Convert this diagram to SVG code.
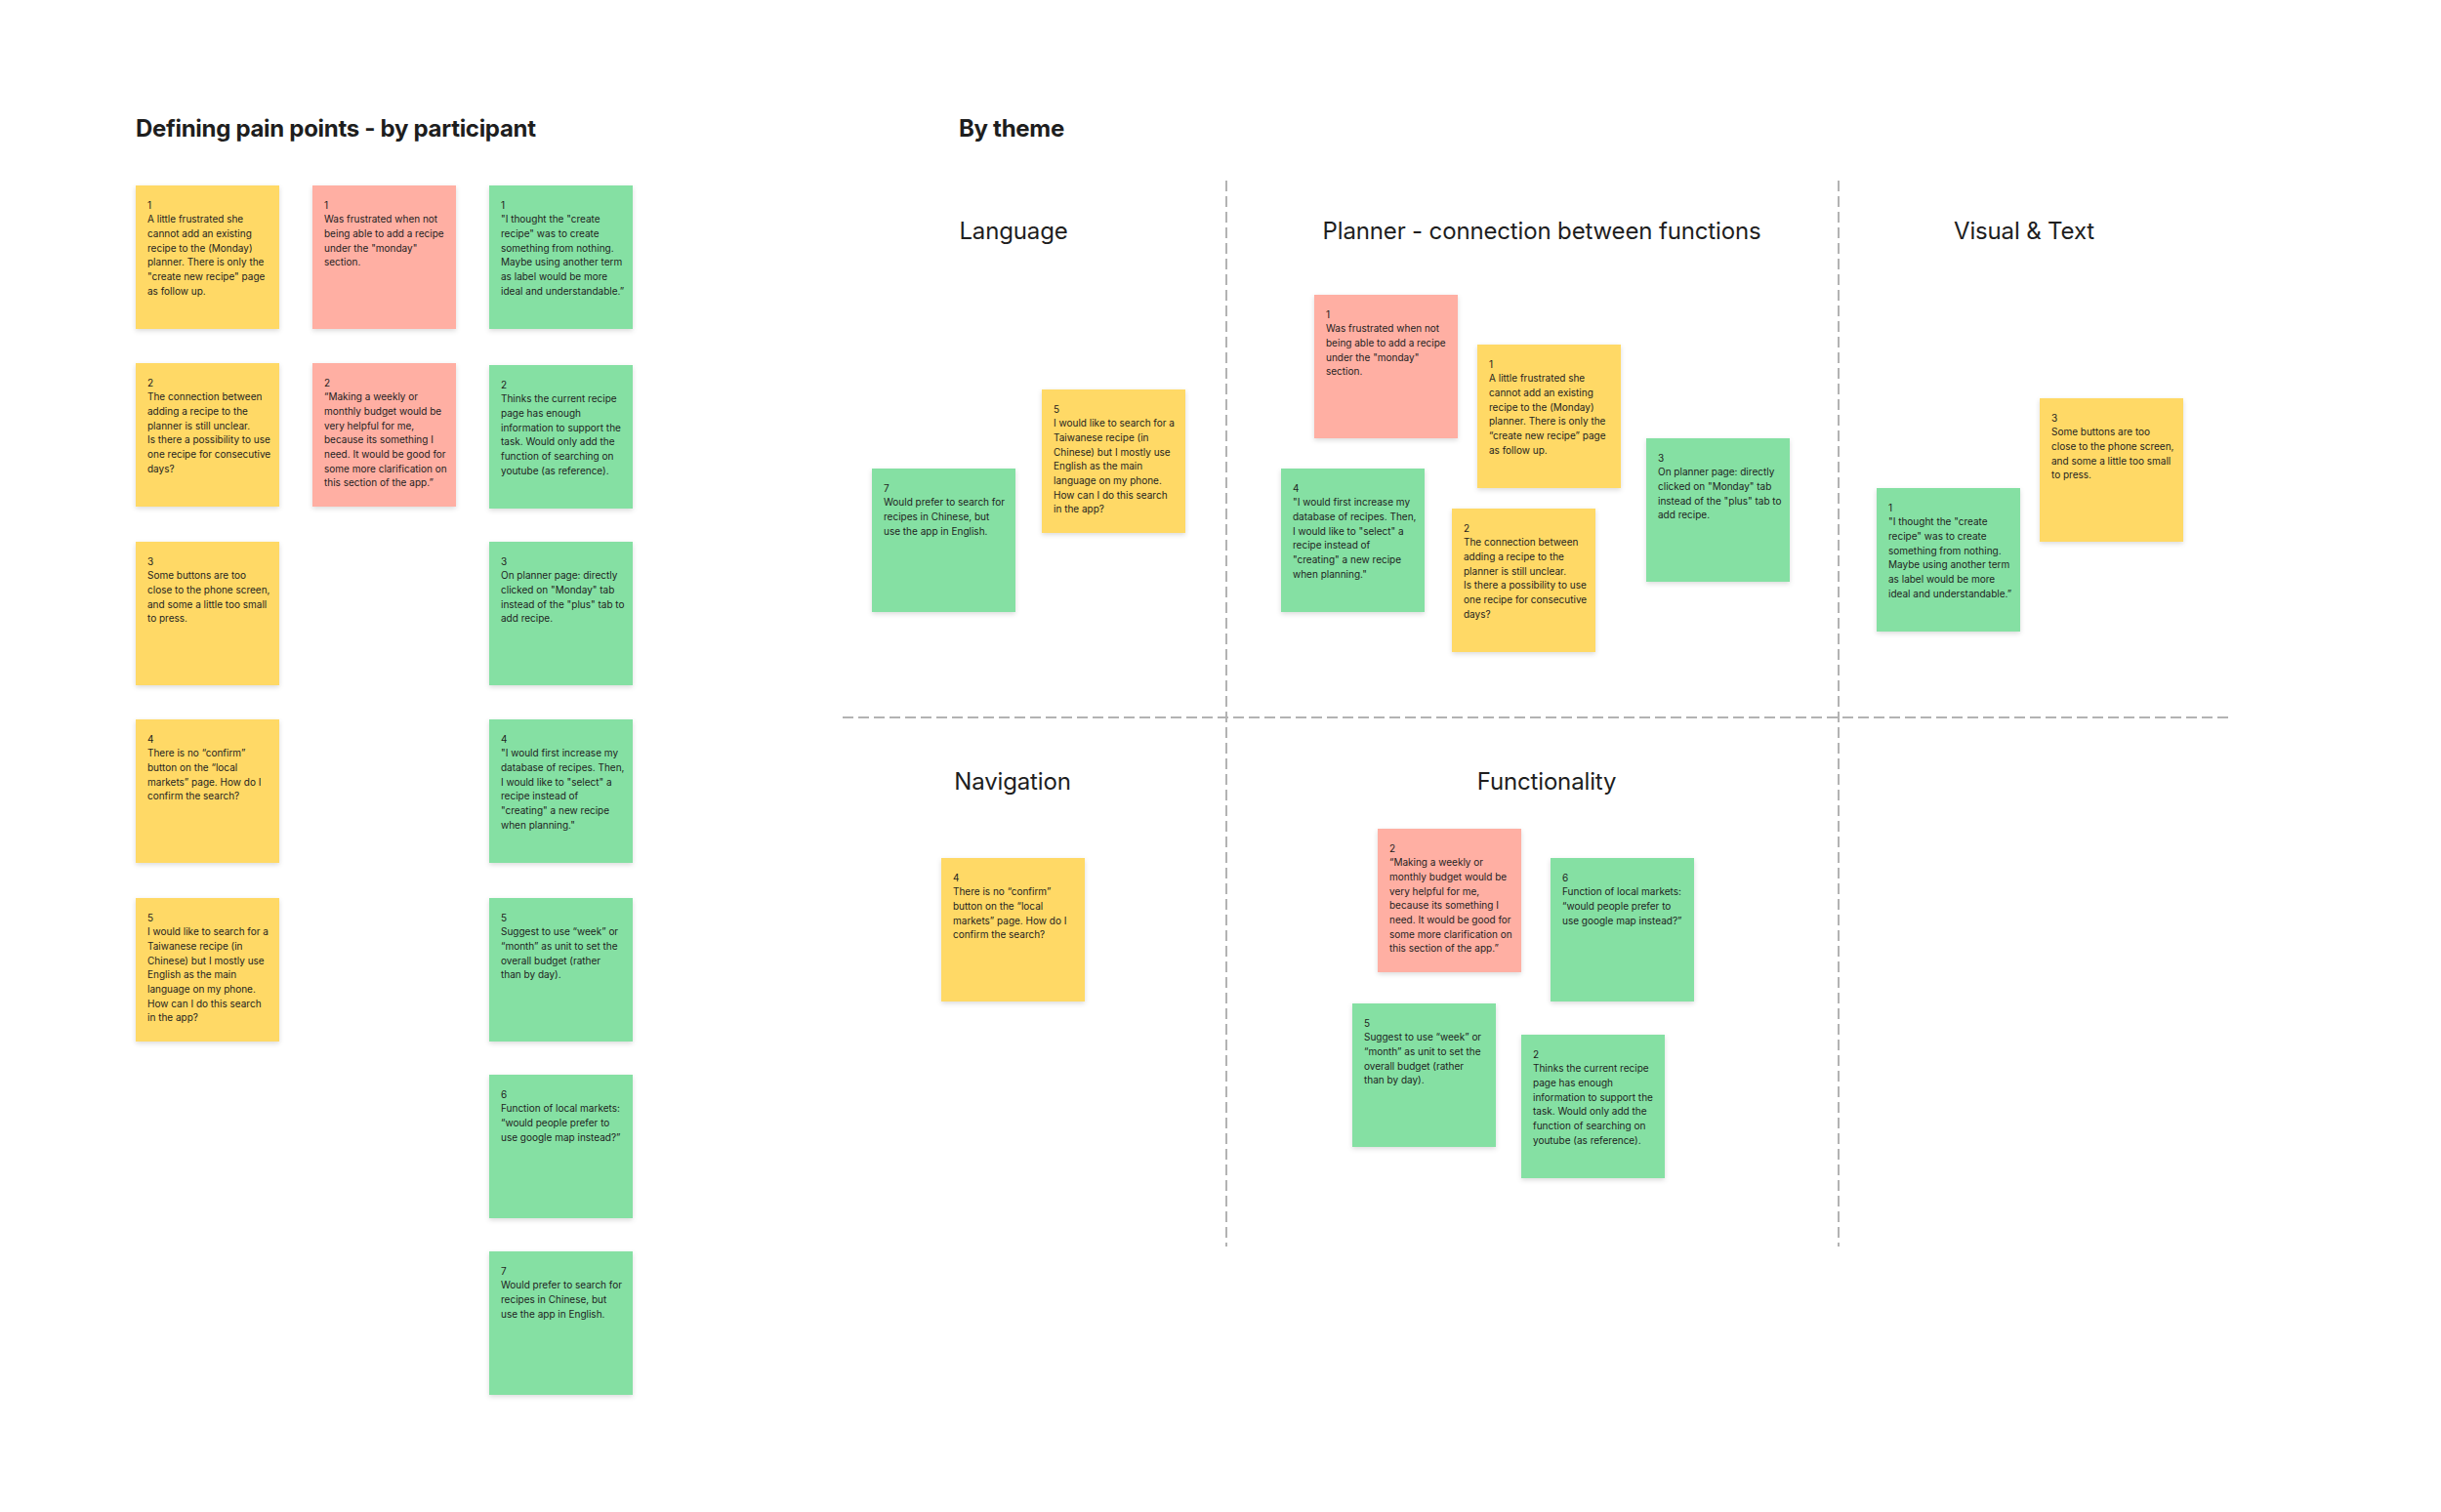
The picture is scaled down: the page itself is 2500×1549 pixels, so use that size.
<svg xmlns="http://www.w3.org/2000/svg" width="2500" height="1549" viewBox="0 0 2500 1549">
<style>
.bg{fill:#ffffff}
.sticky{filter:url(#sh)}
.y{fill:#FFD966}
.r{fill:#FFAFA3}
.g{fill:#85E0A3}
.st{font-family:Inter,"Liberation Sans",sans-serif;font-size:10px;fill:#1e1e1e}
.title{font-family:Inter,"Liberation Sans",sans-serif;font-size:24px;font-weight:700;letter-spacing:-0.3px;fill:#1e1e1e}
.head{font-family:Inter,"Liberation Sans",sans-serif;font-size:24px;letter-spacing:-0.15px;fill:#1e1e1e;text-anchor:middle}
.div{stroke:#b3b3b3;stroke-width:2;stroke-dasharray:11 5;fill:none}
</style>
<defs>
<filter id="sh" x="-10%" y="-10%" width="120%" height="125%">
<feDropShadow dx="0" dy="2" stdDeviation="2.5" flood-color="#000" flood-opacity="0.14"/>
</filter>
</defs>
<rect class="bg" x="0" y="0" width="2500" height="1549"/>

<g id="titles">
<text class="title" x="139" y="140">Defining pain points - by participant</text>
<text class="title" x="982" y="140">By theme</text>
<text class="head" x="1038" y="245">Language</text>
<text class="head" x="1579" y="245">Planner - connection between functions</text>
<text class="head" x="2073" y="245">Visual &amp; Text</text>
<text class="head" x="1037" y="809">Navigation</text>
<text class="head" x="1584" y="809">Functionality</text>
</g>

<g id="connectors">
<line class="div" x1="1256" y1="185" x2="1256" y2="1277"/>
<line class="div" x1="1883" y1="185" x2="1883" y2="1277"/>
<line class="div" x1="863" y1="735" x2="2286" y2="735"/>
</g>

<!-- By participant: yellow column -->
<g id="p-yellow-1" transform="translate(139,190)"><rect class="sticky y" width="147" height="147"/>
<text class="st" y="23.5"><tspan x="12">1</tspan><tspan x="12" dy="14.67">A little frustrated she</tspan><tspan x="12" dy="14.67">cannot add an existing</tspan><tspan x="12" dy="14.67">recipe to the (Monday)</tspan><tspan x="12" dy="14.67">planner. There is only the</tspan><tspan x="12" dy="14.67">"create new recipe" page</tspan><tspan x="12" dy="14.67">as follow up.</tspan></text></g>
<g id="p-yellow-2" transform="translate(139,372)"><rect class="sticky y" width="147" height="147"/>
<text class="st" y="23.5"><tspan x="12">2</tspan><tspan x="12" dy="14.67">The connection between</tspan><tspan x="12" dy="14.67">adding a recipe to the</tspan><tspan x="12" dy="14.67">planner is still unclear.</tspan><tspan x="12" dy="14.67">Is there a possibility to use</tspan><tspan x="12" dy="14.67">one recipe for consecutive</tspan><tspan x="12" dy="14.67">days?</tspan></text></g>
<g id="p-yellow-3" transform="translate(139,555)"><rect class="sticky y" width="147" height="147"/>
<text class="st" y="23.5"><tspan x="12">3</tspan><tspan x="12" dy="14.67">Some buttons are too</tspan><tspan x="12" dy="14.67">close to the phone screen,</tspan><tspan x="12" dy="14.67">and some a little too small</tspan><tspan x="12" dy="14.67">to press.</tspan></text></g>
<g id="p-yellow-4" transform="translate(139,737)"><rect class="sticky y" width="147" height="147"/>
<text class="st" y="23.5"><tspan x="12">4</tspan><tspan x="12" dy="14.67">There is no “confirm”</tspan><tspan x="12" dy="14.67">button on the “local</tspan><tspan x="12" dy="14.67">markets” page. How do I</tspan><tspan x="12" dy="14.67">confirm the search?</tspan></text></g>
<g id="p-yellow-5" transform="translate(139,920)"><rect class="sticky y" width="147" height="147"/>
<text class="st" y="23.5"><tspan x="12">5</tspan><tspan x="12" dy="14.67">I would like to search for a</tspan><tspan x="12" dy="14.67">Taiwanese recipe (in</tspan><tspan x="12" dy="14.67">Chinese) but I mostly use</tspan><tspan x="12" dy="14.67">English as the main</tspan><tspan x="12" dy="14.67">language on my phone.</tspan><tspan x="12" dy="14.67">How can I do this search</tspan><tspan x="12" dy="14.67">in the app?</tspan></text></g>

<!-- By participant: pink column -->
<g id="p-pink-1" transform="translate(320,190)"><rect class="sticky r" width="147" height="147"/>
<text class="st" y="23.5"><tspan x="12">1</tspan><tspan x="12" dy="14.67">Was frustrated when not</tspan><tspan x="12" dy="14.67">being able to add a recipe</tspan><tspan x="12" dy="14.67">under the "monday"</tspan><tspan x="12" dy="14.67">section.</tspan></text></g>
<g id="p-pink-2" transform="translate(320,372)"><rect class="sticky r" width="147" height="147"/>
<text class="st" y="23.5"><tspan x="12">2</tspan><tspan x="12" dy="14.67">“Making a weekly or</tspan><tspan x="12" dy="14.67">monthly budget would be</tspan><tspan x="12" dy="14.67">very helpful for me,</tspan><tspan x="12" dy="14.67">because its something I</tspan><tspan x="12" dy="14.67">need. It would be good for</tspan><tspan x="12" dy="14.67">some more clarification on</tspan><tspan x="12" dy="14.67">this section of the app.”</tspan></text></g>

<!-- By participant: green column -->
<g id="p-green-1" transform="translate(501,190)"><rect class="sticky g" width="147" height="147"/>
<text class="st" y="23.5"><tspan x="12">1</tspan><tspan x="12" dy="14.67">"I thought the "create</tspan><tspan x="12" dy="14.67">recipe" was to create</tspan><tspan x="12" dy="14.67">something from nothing.</tspan><tspan x="12" dy="14.67">Maybe using another term</tspan><tspan x="12" dy="14.67">as label would be more</tspan><tspan x="12" dy="14.67">ideal and understandable.”</tspan></text></g>
<g id="p-green-2" transform="translate(501,374)"><rect class="sticky g" width="147" height="147"/>
<text class="st" y="23.5"><tspan x="12">2</tspan><tspan x="12" dy="14.67">Thinks the current recipe</tspan><tspan x="12" dy="14.67">page has enough</tspan><tspan x="12" dy="14.67">information to support the</tspan><tspan x="12" dy="14.67">task. Would only add the</tspan><tspan x="12" dy="14.67">function of searching on</tspan><tspan x="12" dy="14.67">youtube (as reference).</tspan></text></g>
<g id="p-green-3" transform="translate(501,555)"><rect class="sticky g" width="147" height="147"/>
<text class="st" y="23.5"><tspan x="12">3</tspan><tspan x="12" dy="14.67">On planner page: directly</tspan><tspan x="12" dy="14.67">clicked on "Monday" tab</tspan><tspan x="12" dy="14.67">instead of the "plus" tab to</tspan><tspan x="12" dy="14.67">add recipe.</tspan></text></g>
<g id="p-green-4" transform="translate(501,737)"><rect class="sticky g" width="147" height="147"/>
<text class="st" y="23.5"><tspan x="12">4</tspan><tspan x="12" dy="14.67">"I would first increase my</tspan><tspan x="12" dy="14.67">database of recipes. Then,</tspan><tspan x="12" dy="14.67">I would like to "select" a</tspan><tspan x="12" dy="14.67">recipe instead of</tspan><tspan x="12" dy="14.67">"creating" a new recipe</tspan><tspan x="12" dy="14.67">when planning."</tspan></text></g>
<g id="p-green-5" transform="translate(501,920)"><rect class="sticky g" width="147" height="147"/>
<text class="st" y="23.5"><tspan x="12">5</tspan><tspan x="12" dy="14.67">Suggest to use “week” or</tspan><tspan x="12" dy="14.67">“month” as unit to set the</tspan><tspan x="12" dy="14.67">overall budget (rather</tspan><tspan x="12" dy="14.67">than by day).</tspan></text></g>
<g id="p-green-6" transform="translate(501,1101)"><rect class="sticky g" width="147" height="147"/>
<text class="st" y="23.5"><tspan x="12">6</tspan><tspan x="12" dy="14.67">Function of local markets:</tspan><tspan x="12" dy="14.67">“would people prefer to</tspan><tspan x="12" dy="14.67">use google map instead?”</tspan></text></g>
<g id="p-green-7" transform="translate(501,1282)"><rect class="sticky g" width="147" height="147"/>
<text class="st" y="23.5"><tspan x="12">7</tspan><tspan x="12" dy="14.67">Would prefer to search for</tspan><tspan x="12" dy="14.67">recipes in Chinese, but</tspan><tspan x="12" dy="14.67">use the app in English.</tspan></text></g>

<!-- Theme: Language -->
<g id="t-language-green-7" transform="translate(893,480)"><rect class="sticky g" width="147" height="147"/>
<text class="st" y="23.5"><tspan x="12">7</tspan><tspan x="12" dy="14.67">Would prefer to search for</tspan><tspan x="12" dy="14.67">recipes in Chinese, but</tspan><tspan x="12" dy="14.67">use the app in English.</tspan></text></g>
<g id="t-language-yellow-5" transform="translate(1067,399)"><rect class="sticky y" width="147" height="147"/>
<text class="st" y="23.5"><tspan x="12">5</tspan><tspan x="12" dy="14.67">I would like to search for a</tspan><tspan x="12" dy="14.67">Taiwanese recipe (in</tspan><tspan x="12" dy="14.67">Chinese) but I mostly use</tspan><tspan x="12" dy="14.67">English as the main</tspan><tspan x="12" dy="14.67">language on my phone.</tspan><tspan x="12" dy="14.67">How can I do this search</tspan><tspan x="12" dy="14.67">in the app?</tspan></text></g>

<!-- Theme: Planner -->
<g id="t-planner-pink-1" transform="translate(1346,302)"><rect class="sticky r" width="147" height="147"/>
<text class="st" y="23.5"><tspan x="12">1</tspan><tspan x="12" dy="14.67">Was frustrated when not</tspan><tspan x="12" dy="14.67">being able to add a recipe</tspan><tspan x="12" dy="14.67">under the "monday"</tspan><tspan x="12" dy="14.67">section.</tspan></text></g>
<g id="t-planner-yellow-1" transform="translate(1513,353)"><rect class="sticky y" width="147" height="147"/>
<text class="st" y="23.5"><tspan x="12">1</tspan><tspan x="12" dy="14.67">A little frustrated she</tspan><tspan x="12" dy="14.67">cannot add an existing</tspan><tspan x="12" dy="14.67">recipe to the (Monday)</tspan><tspan x="12" dy="14.67">planner. There is only the</tspan><tspan x="12" dy="14.67">“create new recipe” page</tspan><tspan x="12" dy="14.67">as follow up.</tspan></text></g>
<g id="t-planner-green-4" transform="translate(1312,480)"><rect class="sticky g" width="147" height="147"/>
<text class="st" y="23.5"><tspan x="12">4</tspan><tspan x="12" dy="14.67">"I would first increase my</tspan><tspan x="12" dy="14.67">database of recipes. Then,</tspan><tspan x="12" dy="14.67">I would like to "select" a</tspan><tspan x="12" dy="14.67">recipe instead of</tspan><tspan x="12" dy="14.67">"creating" a new recipe</tspan><tspan x="12" dy="14.67">when planning."</tspan></text></g>
<g id="t-planner-yellow-2" transform="translate(1487,521)"><rect class="sticky y" width="147" height="147"/>
<text class="st" y="23.5"><tspan x="12">2</tspan><tspan x="12" dy="14.67">The connection between</tspan><tspan x="12" dy="14.67">adding a recipe to the</tspan><tspan x="12" dy="14.67">planner is still unclear.</tspan><tspan x="12" dy="14.67">Is there a possibility to use</tspan><tspan x="12" dy="14.67">one recipe for consecutive</tspan><tspan x="12" dy="14.67">days?</tspan></text></g>
<g id="t-planner-green-3" transform="translate(1686,449)"><rect class="sticky g" width="147" height="147"/>
<text class="st" y="23.5"><tspan x="12">3</tspan><tspan x="12" dy="14.67">On planner page: directly</tspan><tspan x="12" dy="14.67">clicked on "Monday" tab</tspan><tspan x="12" dy="14.67">instead of the "plus" tab to</tspan><tspan x="12" dy="14.67">add recipe.</tspan></text></g>

<!-- Theme: Visual & Text -->
<g id="t-visual-yellow-3" transform="translate(2089,408)"><rect class="sticky y" width="147" height="147"/>
<text class="st" y="23.5"><tspan x="12">3</tspan><tspan x="12" dy="14.67">Some buttons are too</tspan><tspan x="12" dy="14.67">close to the phone screen,</tspan><tspan x="12" dy="14.67">and some a little too small</tspan><tspan x="12" dy="14.67">to press.</tspan></text></g>
<g id="t-visual-green-1" transform="translate(1922,500)"><rect class="sticky g" width="147" height="147"/>
<text class="st" y="23.5"><tspan x="12">1</tspan><tspan x="12" dy="14.67">"I thought the "create</tspan><tspan x="12" dy="14.67">recipe" was to create</tspan><tspan x="12" dy="14.67">something from nothing.</tspan><tspan x="12" dy="14.67">Maybe using another term</tspan><tspan x="12" dy="14.67">as label would be more</tspan><tspan x="12" dy="14.67">ideal and understandable.”</tspan></text></g>

<!-- Theme: Navigation -->
<g id="t-navigation-yellow-4" transform="translate(964,879)"><rect class="sticky y" width="147" height="147"/>
<text class="st" y="23.5"><tspan x="12">4</tspan><tspan x="12" dy="14.67">There is no “confirm”</tspan><tspan x="12" dy="14.67">button on the “local</tspan><tspan x="12" dy="14.67">markets” page. How do I</tspan><tspan x="12" dy="14.67">confirm the search?</tspan></text></g>

<!-- Theme: Functionality -->
<g id="t-func-pink-2" transform="translate(1411,849)"><rect class="sticky r" width="147" height="147"/>
<text class="st" y="23.5"><tspan x="12">2</tspan><tspan x="12" dy="14.67">“Making a weekly or</tspan><tspan x="12" dy="14.67">monthly budget would be</tspan><tspan x="12" dy="14.67">very helpful for me,</tspan><tspan x="12" dy="14.67">because its something I</tspan><tspan x="12" dy="14.67">need. It would be good for</tspan><tspan x="12" dy="14.67">some more clarification on</tspan><tspan x="12" dy="14.67">this section of the app.”</tspan></text></g>
<g id="t-func-green-6" transform="translate(1588,879)"><rect class="sticky g" width="147" height="147"/>
<text class="st" y="23.5"><tspan x="12">6</tspan><tspan x="12" dy="14.67">Function of local markets:</tspan><tspan x="12" dy="14.67">“would people prefer to</tspan><tspan x="12" dy="14.67">use google map instead?”</tspan></text></g>
<g id="t-func-green-5" transform="translate(1385,1028)"><rect class="sticky g" width="147" height="147"/>
<text class="st" y="23.5"><tspan x="12">5</tspan><tspan x="12" dy="14.67">Suggest to use “week” or</tspan><tspan x="12" dy="14.67">“month” as unit to set the</tspan><tspan x="12" dy="14.67">overall budget (rather</tspan><tspan x="12" dy="14.67">than by day).</tspan></text></g>
<g id="t-func-green-2" transform="translate(1558,1060)"><rect class="sticky g" width="147" height="147"/>
<text class="st" y="23.5"><tspan x="12">2</tspan><tspan x="12" dy="14.67">Thinks the current recipe</tspan><tspan x="12" dy="14.67">page has enough</tspan><tspan x="12" dy="14.67">information to support the</tspan><tspan x="12" dy="14.67">task. Would only add the</tspan><tspan x="12" dy="14.67">function of searching on</tspan><tspan x="12" dy="14.67">youtube (as reference).</tspan></text></g>
</svg>
